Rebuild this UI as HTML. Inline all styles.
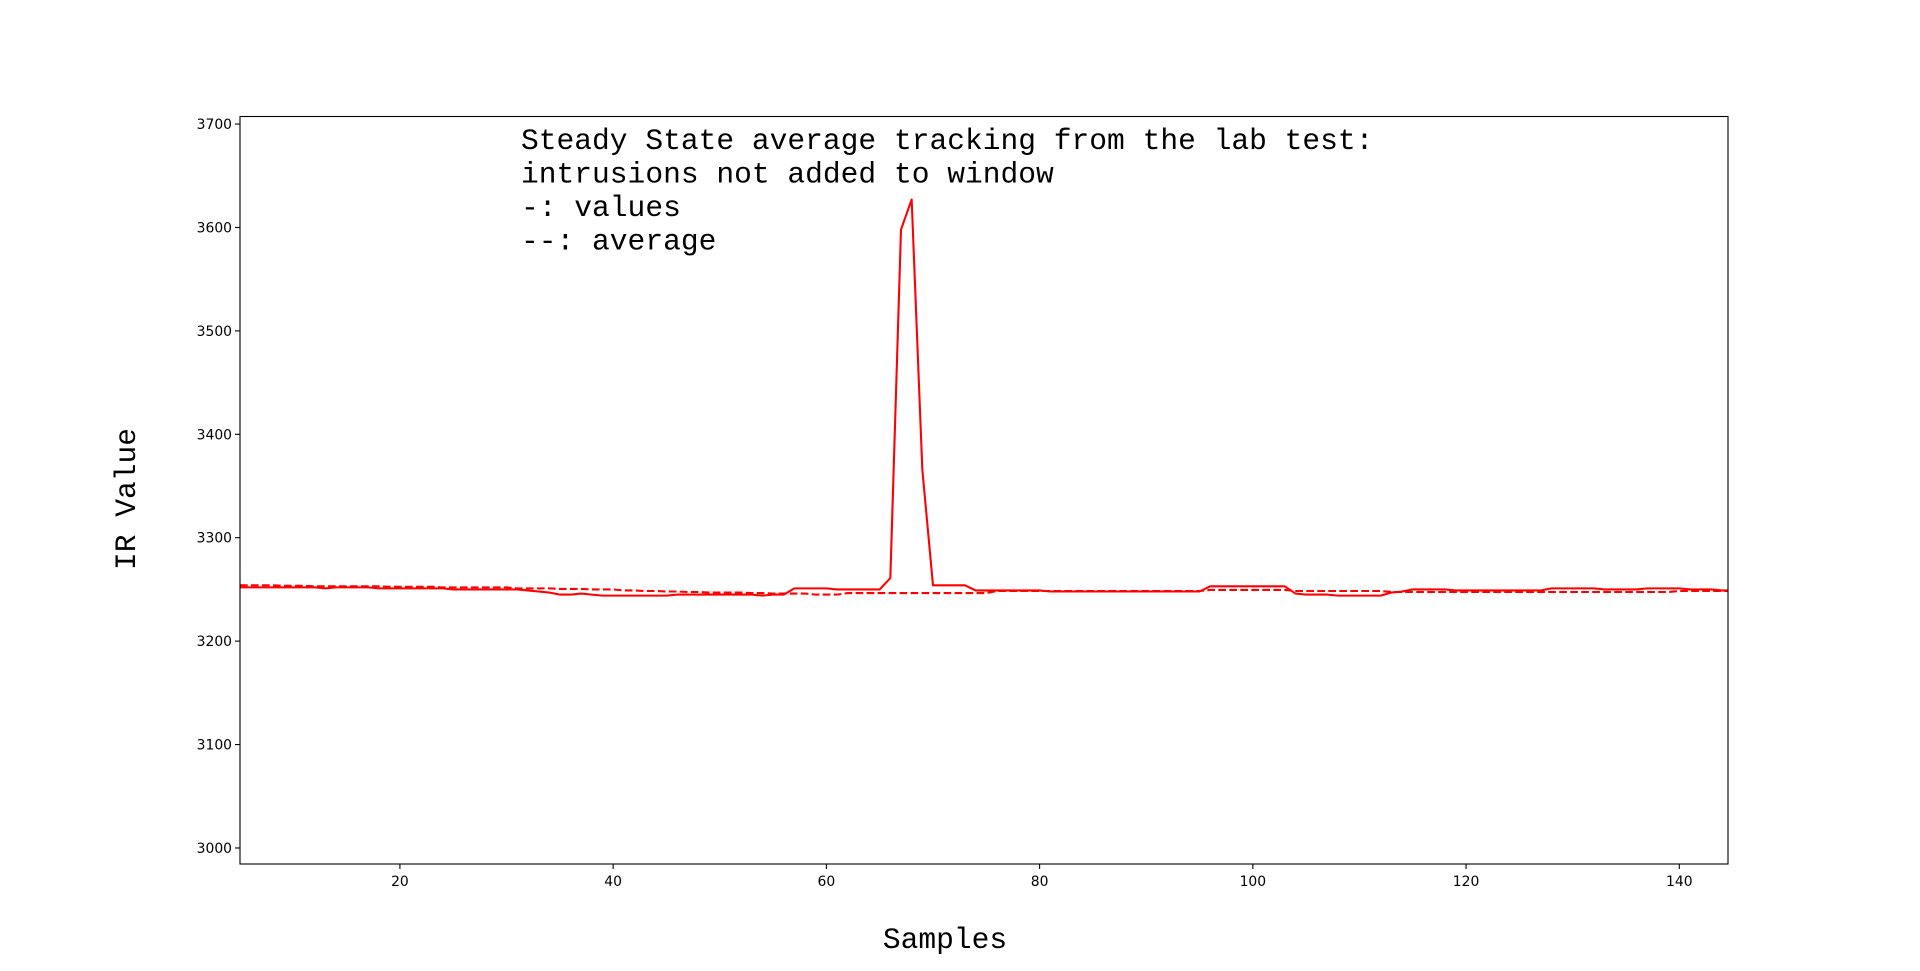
<!DOCTYPE html>
<html><head><meta charset="utf-8"><style>
html,body{margin:0;padding:0;background:#fff;}
svg{display:block;}
</style></head><body>
<svg id="chart" width="1920" height="971" xmlns="http://www.w3.org/2000/svg">
<rect x="0" y="0" width="1920" height="971" fill="#fff"/>
<g id="plot"></g>
<g font-family="Liberation Mono, monospace" font-size="29.6" fill="#000">
<text x="521" y="149">Steady State average tracking from the lab test:</text>
<text x="521" y="182.5">intrusions not added to window</text>
<text x="521" y="216">-: values</text>
<text x="521" y="249.5">--: average</text>
</g>
<text x="945" y="948" text-anchor="middle" font-family="Liberation Mono, monospace" font-size="29.6">Samples</text>
<text transform="translate(135,499) rotate(-90)" text-anchor="middle" font-family="Liberation Mono, monospace" font-size="29.6">IR Value</text>
</svg>
<script>
const xTicks = [20, 40, 60, 80, 100, 120, 140];
const yTicks = [3000, 3100, 3200, 3300, 3400, 3500, 3600, 3700];
const sampleStart = 5;
const values = [
3252,3252,3252,3252,3252,3252,3252,3252,3251,3252,3252,3252,3252,
3251,3251,3251,3251,3251,3251,3251,
3250,3250,3250,3250,3250,3250,3250,
3249,3248,3247,3245,3245,3246,3245,
3244,3244,3244,3244,3244,3244,3244,
3245,3245,3245,3245,3245,3245,3245,3245,3244,3245,3245,
3251,3251,3251,3251,3250,3250,3250,3250,3250,
3261,3598,3627,3366,3254,3254,3254,3254,
3249,3249,3249,3249,3249,3249,3249,
3248,3248,3248,3248,3248,3248,3248,3248,3248,3248,3248,3248,3248,3248,3248,
3253,3253,3253,3253,3253,3253,3253,3253,
3246,3245,3245,3245,3244,3244,3244,3244,3244,
3247,3248,3250,3250,3250,3250,
3249,3249,3249,3249,3249,3249,3249,3249,3249,
3251,3251,3251,3251,3251,
3250,3250,3250,3250,
3251,3251,3251,3251,
3250,3250,3250,3249,3249
];
const averages = [
3254,3254,3254,3254,3253.5,3253.5,3253.5,3253,3253,3253,3253,
3253,3253,3253,3252.5,3252.5,3252.5,3252.5,3252.5,3252,3252,3252,3252,3252,3252,3252,
3251,3251,3251,3251,3250.5,3250.5,3250.5,3250,3250,3250,
3249,3249,3248.5,3248.5,3248,3248,3247.5,3247.5,3247,3247,
3247,3247,3246.5,3246.5,3246,3246,3246,3246,
3245,3245,3245,
3246.5,3246.5,3246.5,3246.5,3246.5,3246.5,3246.5,3246.5,3246.5,3246.5,3246.5,3246.5,3246.5,3246.5,
3248.5,3248.5,3248.5,3248.5,3248.5,3248.5,3248.5,3248.5,3248.5,3248.5,3248.5,3248.5,3248.5,3248.5,3248.5,3248.5,3248.5,3248.5,3248.5,3248.5,
3249.5,3249.5,3249.5,3249.5,3249.5,3249.5,3249.5,3249.5,
3248.5,3248.5,3248.5,3248.5,3248.5,3248.5,3248.5,3248.5,3248.5,
3247.5,3247.5,3247.5,3247.5,3247.5,3247.5,3247.5,3247.5,3247.5,3247.5,3247.5,3247.5,3247.5,3247.5,
3247.5,3247.5,3247.5,3247.5,3247.5,3247.5,3247.5,3247.5,3247.5,3247.5,3247.5,3247.5,3247.5,
3248.5,3248.5,3248.5,3248.5,3248.5,3248.5
];
const L=240,R=1728,T=116.5,B=864;
const xMin=5,xMax=144.57,yMin=2984.5,yMax=3707.3;
function xs(v){return L+(v-xMin)/(xMax-xMin)*(R-L);}
function ys(v){return B-(v-yMin)/(yMax-yMin)*(B-T);}
const NS="http://www.w3.org/2000/svg";
const g=document.getElementById('plot');
function mk(tag,attrs){const e=document.createElementNS(NS,tag);for(const k in attrs)e.setAttribute(k,attrs[k]);return e;}
const clip=mk('clipPath',{id:'clp'});clip.appendChild(mk('rect',{x:L,y:T,width:R-L,height:B-T}));g.appendChild(clip);
function pathFor(arr){return arr.map((v,i)=>(i?'L':'M')+xs(sampleStart+i).toFixed(2)+','+ys(v).toFixed(2)).join(' ');}
const avg=mk('path',{d:pathFor(averages),fill:'none',stroke:'#ff0000','stroke-width':2.08,'stroke-dasharray':'7.7 3.3','clip-path':'url(#clp)'});


g.appendChild(avg);
const val=mk('path',{d:pathFor(values),fill:'none',stroke:'#ff0000','stroke-width':2.08,'stroke-linejoin':'round','clip-path':'url(#clp)'});


g.appendChild(val);
const frame=mk('rect',{x:L,y:T,width:R-L,height:B-T,fill:'none',stroke:'#000','stroke-width':1.1});


g.appendChild(frame);
xTicks.forEach(t=>{
  const x=xs(t);
  const ln=mk('line',{x1:x,x2:x,y1:B,y2:B+5,stroke:'#000','stroke-width':1.1});
  
  
  g.appendChild(ln);
  const tx=mk('text',{x:x,y:B+22,'text-anchor':'middle','font-family':'DejaVu Sans, sans-serif','font-size':13.9});
  
  
  tx.textContent=t;g.appendChild(tx);
});
yTicks.forEach(t=>{
  const y=ys(t);
  const ln=mk('line',{x1:L-5,x2:L,y1:y,y2:y,stroke:'#000','stroke-width':1.1});
  
  
  g.appendChild(ln);
  const tx=mk('text',{x:L-8,y:y+5,'text-anchor':'end','font-family':'DejaVu Sans, sans-serif','font-size':13.9});
  
  
  tx.textContent=t;g.appendChild(tx);
});
</script>
</body></html>
